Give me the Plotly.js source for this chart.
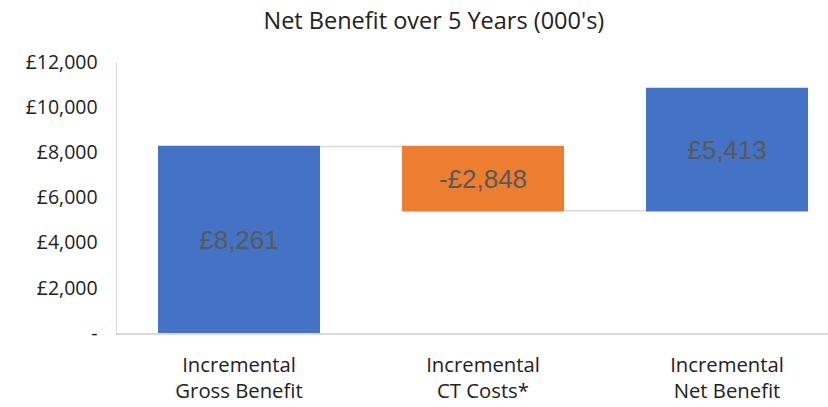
<!DOCTYPE html>
<html><head><meta charset="utf-8">
<script src="https://cdn.plot.ly/plotly-3.0.1.min.js"></script>
<style>html,body{margin:0;padding:0;background:#fff}</style>
</head><body>
<div id="chart" style="width:828px;height:407px"></div>
<script>
const categories = ["Incremental<br>Gross Benefit", "Incremental<br>CT Costs*", "Incremental<br>Net Benefit"];
const values = [8261, -2848, 5413];
const labels = ["£8,261", "-£2,848", "£5,413"];
const tickVals = [0, 2000, 4000, 6000, 8000, 10000, 12000];
const tickText = ["-", "£2,000", "£4,000", "£6,000", "£8,000", "£10,000", "£12,000"];

const trace = {
  type: "waterfall",
  x: categories,
  y: values,
  measure: values.map(() => "relative"),
  text: labels,
  textposition: "inside",
  insidetextanchor: "middle",
  textfont: {family: "Liberation Sans, Arial, sans-serif", size: 26, color: "#595959"},
  increasing: {marker: {color: "#4472C4"}},
  decreasing: {marker: {color: "#ED7D31"}},
  connector: {line: {color: "#d9d9d9", width: 1.5}},
  width: 0.664,
  hoverinfo: "none"
};

const layout = {
  width: 828, height: 407,
  margin: {l: 117, r: 0, t: 62, b: 74},
  paper_bgcolor: "#fff", plot_bgcolor: "#fff",
  showlegend: false,
  title: {text: "Net Benefit over 5 Years (000's)", x: 0.524, xanchor: "center", y: 0.95, yanchor: "middle",
          font: {family: "Open Sans, sans-serif", size: 23.5, color: "#222"}},
  xaxis: {
    range: [-0.5, 2.414], showgrid: false, zeroline: false,
    showline: true, linecolor: "#d9d9d9", linewidth: 1.5,
    ticks: "", ticklabelstandoff: 13,
    tickfont: {family: "Open Sans, sans-serif", size: 20.3, color: "#222"}
  },
  yaxis: {
    range: [0, 12000], showgrid: false, zeroline: false,
    showline: true, linecolor: "#d9d9d9", linewidth: 1.5,
    tickmode: "array", tickvals: tickVals, ticktext: tickText,
    ticks: "", ticklabelstandoff: 14,
    tickfont: {family: "Open Sans, sans-serif", size: 19.5, color: "#222"}
  }
};

Plotly.newPlot("chart", [trace], layout, {displayModeBar: false, staticPlot: true});
</script>
</body></html>
